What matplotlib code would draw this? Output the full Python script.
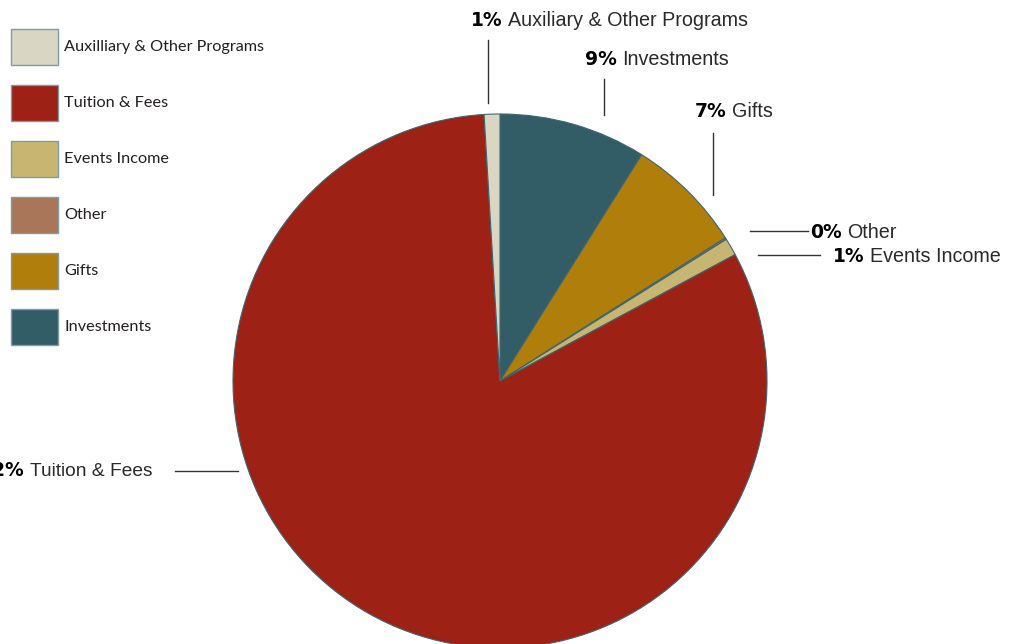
import matplotlib
matplotlib.use("Agg")
import matplotlib.pyplot as plt
from matplotlib.patches import Rectangle

# slice data, clockwise from 12 o'clock
names = ["Investments", "Gifts", "Other", "Events Income", "Tuition & Fees", "Auxiliary & Other Programs"]
values = [8.9, 7.1, 0.1, 1.05, 81.9, 0.95]
colors = ["#335d66", "#b07e0b", "#a9765a", "#c8b571", "#9e2116", "#dad6c4"]

# legend order (top to bottom), note the spelling used in the legend
legend_names = ["Auxilliary & Other Programs", "Tuition & Fees", "Events Income", "Other", "Gifts", "Investments"]
legend_colors = ["#dad6c4", "#9e2116", "#c8b571", "#a9765a", "#b07e0b", "#335d66"]

W, H = 1009, 644


def Y(y):
    # picture rows go down, axes go up
    return H - y


fig = plt.figure(figsize=(W / 100, H / 100), dpi=100)
ax = fig.add_axes([0, 0, 1, 1])

ax.pie(values, colors=colors, startangle=90, counterclock=False,
       center=(500, Y(381)), radius=267,
       wedgeprops=dict(edgecolor="#3d6670", linewidth=0.8))
ax.set_xlim(0, W)
ax.set_ylim(0, H)
ax.set_aspect("equal")
ax.axis("off")

# legend
for i, (lab, c) in enumerate(zip(legend_names, legend_colors)):
    yc = 47 + 56 * i
    ax.add_patch(Rectangle((11, Y(yc + 18)), 47, 36, facecolor=c,
                           edgecolor="#7f9ca0", linewidth=1.0))
    ax.text(64, Y(yc), lab, fontsize=11.7, family="Lato", color="#231f20",
            va="center", ha="left")

# callout labels: (text x, text y, ha, line start, line end)
callouts = {
    "Auxiliary & Other Programs": (471, 20, "left", (488, 40), (488, 103)),
    "Investments": (585, 59, "left", (604, 79), (604, 115)),
    "Gifts": (695, 111, "left", (713, 133), (713, 195)),
    "Other": (810, 232, "left", (750, 231), (808, 231)),
    "Events Income": (833, 256, "left", (758, 255), (820, 255)),
    "Tuition & Fees": (153, 472, "right", (175, 471), (238, 471)),
}

for name, v in zip(names, values):
    tx, ty, ha, p0, p1 = callouts[name]
    ax.plot([p0[0], p1[0]], [Y(p0[1]), Y(p1[1])], color="#333333", lw=1.0)
    pct = f"{v:.0f}%"
    if ha == "left":
        t = ax.text(tx, Y(ty), pct, fontsize=13.5, family="DejaVu Sans", weight="bold",
                    va="center", ha="left", color="black")
        ax.annotate(name, xy=(1, 0), xycoords=t, xytext=(4, 0), textcoords="offset points",
                    fontsize=14.2, family="Liberation Sans", color="#2a2a2a",
                    va="bottom", ha="left")
    else:
        t = ax.text(tx, Y(ty), name, fontsize=13.8, family="Liberation Sans",
                    va="center", ha="right", color="#2a2a2a")
        ax.annotate(pct, xy=(0, 0), xycoords=t, xytext=(-4, 0), textcoords="offset points",
                    fontsize=13.5, family="DejaVu Sans", weight="bold", color="black",
                    va="bottom", ha="right")

fig.savefig("out.png", dpi=100)
